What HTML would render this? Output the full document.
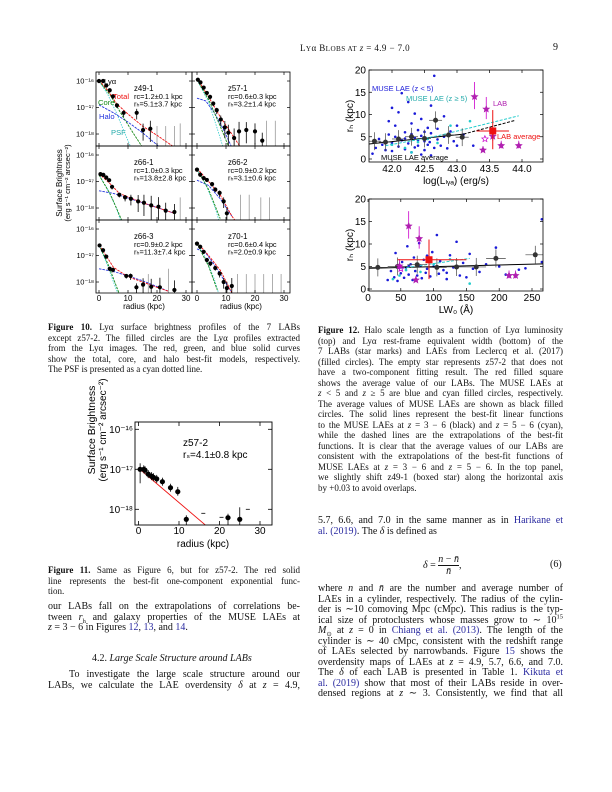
<!DOCTYPE html>
<html><head><meta charset="utf-8">
<style>
body{margin:0;background:#fff}
#page{position:relative;width:612px;height:792px;overflow:hidden;background:#fff;font-family:"Liberation Serif",serif;color:#111}
.l{position:absolute;white-space:nowrap;font-size:10px;line-height:10px}
.j{text-align:justify;text-align-last:justify;white-space:normal}
.c{font-size:9px}
.lc{left:48px;width:252px}
.rc{left:318px;width:245px}
sub,sup{line-height:0}
b{font-weight:bold}
a{color:#2a2aa0;text-decoration:none}
svg{position:absolute;left:0;top:0}
</style></head><body>
<div id="page">
<div class="l" style="left:300px;top:43px;font-size:9px;letter-spacing:0.4px">L<span style="font-size:7.2px">Y</span>α B<span style="font-size:7.2px">LOBS AT</span> <i>z</i> = 4.9 − 7.0</div>
<div class="l" style="left:553px;top:43px">9</div>

<svg id="chart" width="612" height="792"></svg>

<div>
<div class="l lc j c" style="top:322px"><b>Figure 10.</b> Lyα surface brightness profiles of the 7 LABs</div>
<div class="l lc j c" style="top:332.5px">except z57-2. The filled circles are the Lyα profiles extracted</div>
<div class="l lc j c" style="top:343px">from the Lyα images. The red, green, and blue solid curves</div>
<div class="l lc j c" style="top:353.5px">show the total, core, and halo best-fit models, respectively.</div>
<div class="l lc c" style="top:364px">The PSF is presented as a cyan dotted line.</div>
</div>
<div>
<div class="l lc j c" style="top:565px"><b>Figure 11.</b> Same as Figure 6, but for z57-2. The red solid</div>
<div class="l lc j c" style="top:575.5px">line represents the best-fit one-component exponential func-</div>
<div class="l lc c" style="top:586px">tion.</div>
</div>
<div>
<div class="l lc j" style="top:602px">our LABs fall on the extrapolations of correlations be-</div>
<div class="l lc j" style="top:612.5px">tween <i>r</i><sub style="font-size:6.5px">h</sub> and galaxy properties of the MUSE LAEs at</div>
<div class="l lc" style="top:623px"><i>z</i> = 3 − 6 in Figures <a>12</a>, <a>13</a>, and <a>14</a>.</div>
<div class="l" style="left:92px;top:654px">4.2. <i>Large Scale Structure around LABs</i></div>
<div class="l lc j" style="top:670px">&nbsp;&nbsp;&nbsp;To investigate the large scale structure around our</div>
<div class="l lc j" style="top:680.5px">LABs, we calculate the LAE overdensity <i>δ</i> at <i>z</i> = 4.9,</div>
</div>
<div>
<div class="l rc j c" style="top:325px"><b>Figure 12.</b> Halo scale length as a function of Lyα luminosity</div>
<div class="l rc j c" style="top:335.5px">(top) and Lyα rest-frame equivalent width (bottom) of the</div>
<div class="l rc j c" style="top:346px">7 LABs (star marks) and LAEs from Leclercq et al. (2017)</div>
<div class="l rc j c" style="top:356.5px">(filled circles). The empty star represents z57-2 that does not</div>
<div class="l rc j c" style="top:367px">have a two-component fitting result. The red filled square</div>
<div class="l rc j c" style="top:377.5px">shows the average value of our LABs. The MUSE LAEs at</div>
<div class="l rc j c" style="top:388px"><i>z</i> &lt; 5 and <i>z</i> ≥ 5 are blue and cyan filled circles, respectively.</div>
<div class="l rc j c" style="top:398.5px">The average values of MUSE LAEs are shown as black filled</div>
<div class="l rc j c" style="top:409px">circles. The solid lines represent the best-fit linear functions</div>
<div class="l rc j c" style="top:419.5px">to the MUSE LAEs at <i>z</i> = 3 − 6 (black) and <i>z</i> = 5 − 6 (cyan),</div>
<div class="l rc j c" style="top:430px">while the dashed lines are the extrapolations of the best-fit</div>
<div class="l rc j c" style="top:440.5px">functions. It is clear that the average values of our LABs are</div>
<div class="l rc j c" style="top:451px">consistent with the extrapolations of the best-fit functions of</div>
<div class="l rc j c" style="top:461.5px">MUSE LAEs at <i>z</i> = 3 − 6 and <i>z</i> = 5 − 6. In the top panel,</div>
<div class="l rc j c" style="top:472px">we slightly shift z49-1 (boxed star) along the horizontal axis</div>
<div class="l rc c" style="top:482.5px">by +0.03 to avoid overlaps.</div>
</div>
<div>
<div class="l rc j" style="top:516px">5.7, 6.6, and 7.0 in the same manner as in <a>Harikane et</a></div>
<div class="l rc" style="top:526.5px"><a>al. (2019)</a>. The <i>δ</i> is defined as</div>
<div class="l" style="left:423px;top:554px;font-size:10px"><i>δ</i> = <span style="display:inline-block;vertical-align:middle;text-align:center;line-height:11px"><span style="display:block;border-bottom:0.6px solid #111"><i>n</i> − <i>n̄</i></span><span style="display:block"><i>n̄</i></span></span>,</div>
<div class="l" style="left:550px;top:560px">(6)</div>
<div class="l rc j" style="top:584px">where <i>n</i> and <i>n̄</i> are the number and average number of</div>
<div class="l rc j" style="top:594.5px">LAEs in a cylinder, respectively. The radius of the cylin-</div>
<div class="l rc j" style="top:605px">der is ∼10 comoving Mpc (cMpc). This radius is the typ-</div>
<div class="l rc j" style="top:615.5px">ical size of protoclusters whose masses grow to ∼ 10<sup style="font-size:6.5px">15</sup></div>
<div class="l rc j" style="top:626px"><i>M</i><sub style="font-size:6.5px">⊙</sub> at <i>z</i> = 0 in <a>Chiang et al. (2013)</a>. The length of the</div>
<div class="l rc j" style="top:636.5px">cylinder is ∼ 40 cMpc, consistent with the redshift range</div>
<div class="l rc j" style="top:647px">of LAEs selected by narrowbands. Figure <a>15</a> shows the</div>
<div class="l rc j" style="top:657.5px">overdensity maps of LAEs at <i>z</i> = 4.9, 5.7, 6.6, and 7.0.</div>
<div class="l rc j" style="top:668px">The <i>δ</i> of each LAB is presented in Table 1. <a>Kikuta et</a></div>
<div class="l rc j" style="top:678.5px"><a>al. (2019)</a> show that most of their LABs reside in over-</div>
<div class="l rc j" style="top:689px">densed regions at <i>z</i> ∼ 3. Consistently, we find that all</div>
</div>
</div>
<script>
// ---------- Figure 10 data ----------
const f10Names = ["z49-1","z57-1","z66-1","z66-2","z66-3","z70-1"];
const f10Rc = ["r\u1D04=1.2±0.1 kpc","r\u1D04=0.6±0.3 kpc","r\u1D04=1.0±0.3 kpc","r\u1D04=0.9±0.2 kpc","r\u1D04=0.9±0.2 kpc","r\u1D04=0.6±0.4 kpc"];
const f10Rh = ["r\u2095=5.1±3.7 kpc","r\u2095=3.2±1.4 kpc","r\u2095=13.8±2.8 kpc","r\u2095=3.1±0.6 kpc","r\u2095=11.3±7.4 kpc","r\u2095=2.0±0.9 kpc"];
const f10PtR = [
 [0,1.4,2.5,3.7,4.8,6.2,8.5,13,15.2,17.7],
 [0.3,1.2,2.3,3.4,4.5,5.6,6.8,8.2,9.6,10.8,12.8,14.5,17,20,22.5],
 [0.5,1.5,2.5,3.5,4.5,7,9,11,13.5,15.5,18,20.5,23,26],
 [0,1.1,2.3,3.4,5.2,6.3,7.8,9.2,10.3],
 [0.2,1.4,2.5,3.7,4.8,9.4,10.9,12.9,15.2,18,21,26],
 [0,1.1,2.3,3.4,4.6,6.3,7.8,9.2,10.3,12]];
const f10PtL = [
 [-16.0,-16.0,-16.17,-16.35,-16.58,-16.92,-17.2,-17.2,-17.85,-17.8],
 [-15.95,-16.05,-16.25,-16.45,-16.6,-16.85,-17.1,-17.45,-17.75,-17.95,-18.15,-17.9,-17.85,-17.9,-18.25],
 [-16.72,-16.75,-16.85,-16.95,-17.2,-17.5,-17.6,-17.65,-17.75,-17.8,-17.9,-17.95,-18.1,-18.15],
 [-16.55,-16.74,-16.87,-16.94,-17.1,-17.3,-17.43,-17.75,-18.2],
 [-16.62,-16.8,-17.04,-17.5,-17.54,-17.77,-17.77,-18.2,-18.1,-18.18,-18.2,-18.3],
 [-16.55,-16.67,-16.86,-17.17,-17.3,-17.47,-17.68,-18.0,-18.23,-18.15]];
const f10Err = [0.08,0.08,0.08,0.08,0.1,0.1,0.15,0.25,0.4,0.5,0.6,0.6,0.5,0.5,0.5];
const f10Total = [
 [[0,-15.97],[3,-16.35],[6,-16.85],[10,-17.25],[15,-17.7],[20,-18.05],[26,-18.5]],
 [[0,-15.9],[4,-16.6],[8,-17.35],[12,-18.0],[15,-18.5]],
 [[0,-16.7],[4,-17.1],[7,-17.45],[15,-17.8],[26,-18.2]],
 [[0,-16.5],[4,-17.0],[8,-17.5],[12,-18.3],[13,-18.45]],
 [[0,-16.6],[3,-17.1],[5,-17.45],[10,-17.8],[20,-18.2],[24,-18.35]],
 [[0,-16.5],[4,-17.0],[8,-17.55],[12,-18.4]]];
const f10Core = [
 [[0,-16.0],[4,-16.55],[8,-17.3],[12,-18.0],[15,-18.5]],
 [[0,-15.95],[4,-16.7],[8,-17.7],[11,-18.5]],
 [[0,-16.75],[4,-17.5],[8,-18.5]],
 [[0,-16.55],[4,-17.3],[8,-18.4]],
 [[0,-16.6],[3,-17.3],[7,-18.45]],
 [[0,-16.55],[4,-17.4],[7,-18.3]]];
const f10Halo = [
 [[0,-16.9],[5,-17.2],[10,-17.55],[15,-17.95],[21,-18.5]],
 [[0,-16.65],[3,-16.75],[6,-17.2],[9,-17.8],[12,-18.5]],
 [[0,-17.35],[5,-17.45],[15,-17.8],[26,-18.2]],
 [[0,-16.95],[4,-17.15],[8,-17.65],[12,-18.3]],
 [[0,-17.5],[5,-17.6],[15,-17.95],[24,-18.35]],
 [[0,-16.75],[3,-16.9],[6,-17.35],[10,-18.05],[12,-18.4]]];
const f10Psf = [
 [[0,-16.0],[3,-16.5],[6,-17.2],[9,-18.0],[11,-18.5]],
 [[0,-15.95],[4,-16.8],[7,-17.8],[9,-18.5]],
 [[0,-16.75],[3,-17.3],[6,-18.0],[7.5,-18.5]],
 [[0,-16.55],[3,-17.1],[6,-17.9],[7.5,-18.45]],
 [[0,-16.6],[3,-17.4],[6,-18.3],[7,-18.5]],
 [[0,-16.55],[3,-17.1],[6,-17.9],[7.5,-18.45]]];
const f10LimR = [[20,23,26,28],[24,27],[28],[15,18,22,25],[17,24],[14,17,20,23,26,29]];
const f10Ticks = ["10\u207B\u00B9\u2076","10\u207B\u00B9\u2077","10\u207B\u00B9\u2078"];
const f10TickLog = [-16,-17,-18];
const f10XTicks = [0,10,20,30];
// ---------- Figure 11 data ----------
const f11R = [0.4,1.3,1.6,2.4,3.2,3.7,4.5,5.9,7.9,9.7,11.8,22.1,25];
const f11L = [-17.0,-17.0,-17.02,-17.12,-17.17,-17.2,-17.24,-17.31,-17.46,-17.56,-18.25,-18.21,-18.25];
const f11ErrLo = [0.35,0.1,0.1,0.1,0.1,0.1,0.1,0.1,0.1,0.1,0.6,0.3,0.4];
const f11ErrHi = [0.15,0.1,0.1,0.1,0.1,0.1,0.1,0.1,0.1,0.12,0.1,0.1,0.3];
const f11Fit = [[0,-16.97],[16.6,-18.4]];
// ---------- Figure 12 data ----------
const topBlue = [[41.75,2.5],[41.8,4.5],[41.85,3.2],[41.9,2.0],[41.95,5.5],[42.0,1.8],[42.0,3.6],[42.05,7.5],[42.1,2.8],[42.1,10.5],[42.15,4.2],[42.2,2.2],[42.2,6.0],[42.25,3.5],[42.3,1.5],[42.3,8.0],[42.35,4.8],[42.35,2.6],[42.4,6.5],[42.4,3.0],[42.45,9.0],[42.45,5.2],[42.5,2.0],[42.5,4.0],[42.55,7.0],[42.55,3.2],[42.6,5.8],[42.6,12.0],[42.65,2.5],[42.65,18.7],[42.7,4.4],[42.7,6.8],[42.75,3.0],[42.8,9.6],[42.8,5.0],[42.85,2.4],[42.9,6.2],[42.95,4.0],[43.0,3.0],[43.0,7.5],[43.1,5.5],[42.0,11.5],[41.95,8.5],[42.25,12.8],[42.15,14.8],[42.35,10.2],[41.7,1.2],[42.45,1.0],[42.6,0.8],[42.05,5.0],[42.2,4.6],[42.4,4.2],[42.3,5.6],[42.5,6.1],[42.58,3.8],[43.25,3.0]];
const topCyan = [[42.0,3.2],[42.2,2.5],[42.4,3.8],[42.55,4.5],[42.7,3.6],[42.9,7.5],[43.2,8.5],[42.3,1.5]];
const topAvgL = [41.73,41.9,42.1,42.3,42.5,42.67,42.87,43.08];
const topAvgR = [4.0,3.8,4.5,5.0,4.6,8.7,5.4,4.9];
const labL = [43.27,43.45,43.55,43.4,43.68,43.95];
const labR = [14.0,11.2,5.1,2.0,3.0,3.0];
const labEmptyL = [43.43]; const labEmptyR = [4.5];
const labAvg = [43.55,6.3]; const labAvgErrL=[43.3,43.8]; const labAvgErrR=[2.2,11];
const topBlackLine = [[41.6,3.3],[43.1,5.6],[43.9,8.7]];
const topCyanLine = [[41.9,3.0],[42.7,5.2],[43.95,9.7]];
const botBlue = [[30,2.0],[35,4.0],[40,2.6],[42,8.0],[45,1.8],[50,3.5],[52,6.0],[55,2.5],[58,4.8],[60,9.5],[62,3.2],[65,5.5],[68,2.0],[70,7.0],[72,4.0],[75,3.0],[78,10.2],[80,5.2],[82,2.4],[85,6.5],[88,3.6],[90,4.5],[95,2.8],[98,8.2],[100,5.0],[105,12.0],[108,3.4],[110,6.2],[115,4.2],[120,2.2],[125,7.5],[130,4.8],[135,10.5],[140,3.0],[145,5.8],[150,2.6],[155,7.8],[160,4.5],[170,3.8],[180,5.5],[195,9.2],[200,5.0],[210,3.2],[230,4.3],[240,4.6],[265,15.5],[265,6.0],[120,3.6],[90,7.4],[62,5.1]];
const botCyan = [[38,2.2],[48,3.0],[58,4.2],[80,3.8],[100,5.5],[125,6.6],[155,1.2],[95,6.9]];
const botAvgW = [15,45,75,105,135,165,195,255];
const botAvgR = [4.8,5.0,5.4,4.8,4.9,4.9,6.8,7.6];
const labW = [62,78,48,73,215,225];
const labEmptyW = [50];
const labAvgW = [93,6.5]; const labAvgErrW=[45,150];
const botBlackLine = [[0,4.6],[270,5.6]];
const botCyanLine = [[45,4.5],[155,6.8]];
const topXTicks = [42.0,42.5,43.0,43.5,44.0];
const topXLabels = ["42.0","42.5","43.0","43.5","44.0"];
const yTicks12 = [0,5,10,15,20];
const botXTicks = [0,50,100,150,200,250];

const NS="http://www.w3.org/2000/svg";
const svg=document.getElementById('chart');
function el(tag,attrs,parent){const e=document.createElementNS(NS,tag);for(const k in attrs)e.setAttribute(k,attrs[k]);(parent||svg).appendChild(e);return e;}
function txt(x,y,s,size,opts,parent){const t=el('text',Object.assign({x:x,y:y,'font-size':size,'font-family':'Liberation Sans, DejaVu Sans, sans-serif',fill:'#000'},opts||{}),parent);t.textContent=s;return t;}
function poly(pts,fx,fy,stroke,w,dash,parent){const p=el('polyline',{points:pts.map(q=>fx(q[0]).toFixed(1)+','+fy(q[1]).toFixed(1)).join(' '),fill:'none',stroke:stroke,'stroke-width':w,'stroke-dasharray':dash||'none'},parent);return p;}

// ----- Figure 10 -----
const f10g=el('g',{});


const colX=[[96,192,99],[192,290,197]]; const rowY=[72,146,220]; const rowH=[74,74,73];
for(let i=0;i<6;i++){
 const c=i%2, r=Math.floor(i/2);
 const x0=colX[c][0],x1=colX[c][1],r0=colX[c][2],top=rowY[r],bot=top+rowH[r];
 const fx=v=>r0+v*2.9, fy=v=>top+(-15.66-v)*26.5;
 const g=el('g',{},f10g);
 
 
 const cid='cp'+i; const cp=el('clipPath',{id:cid},g); el('rect',{x:x0,y:top,width:x1-x0,height:bot-top},cp);
 const inner=el('g',{'clip-path':'url(#'+cid+')'},g);
 f10LimR[i].forEach(v=>{const ln=el('line',{x1:fx(v),x2:fx(v),y1:fy(-17.5-(v%3)*0.1),y2:bot,stroke:'#999','stroke-width':0.8},inner);});
 const pp=poly(f10Psf[i],fx,fy,'#3cc','0.8','1.5,1.2',inner);  
 const hp=poly(f10Halo[i],fx,fy,'#2233dd','0.9','2.5,1',inner);  
 const cpl=poly(f10Core[i],fx,fy,'#1a8a1a','0.9','2.5,1',inner);  
 const tp=poly(f10Total[i],fx,fy,'#e11','0.9','2.5,1',inner);  
 f10PtR[i].forEach((rv,k)=>{const lv=f10PtL[i][k],e=f10Err[k]||0.3;
  const eb=el('line',{x1:fx(rv),x2:fx(rv),y1:fy(lv+e*0.6),y2:fy(lv-e),stroke:'#000','stroke-width':0.8},inner);
   
  const d=el('circle',{cx:fx(rv),cy:fy(lv),r:2.1,fill:'#000'},inner);
   });
 const fr=el('rect',{x:x0,y:top,width:x1-x0,height:bot-top,fill:'none',stroke:'#000','stroke-width':0.8},g);
  
 f10TickLog.forEach((lv,k)=>{const y=fy(lv);el('line',{x1:x0,x2:x0+3,y1:y,y2:y,stroke:'#000','stroke-width':0.7},g);el('line',{x1:x1-3,x2:x1,y1:y,y2:y,stroke:'#000','stroke-width':0.7},g);
  if(c===0){const t=txt(x0-2,y+2.5,f10Ticks[k],7.5,{'text-anchor':'end'},g);}});
 f10XTicks.forEach(v=>{el('line',{x1:fx(v),x2:fx(v),y1:bot,y2:bot-3,stroke:'#000','stroke-width':0.7},g);el('line',{x1:fx(v),x2:fx(v),y1:top,y2:top+3,stroke:'#000','stroke-width':0.7},g);
  if(r===2){const t=txt(fx(v),bot+8,String(v),8,{'text-anchor':'middle'},g);}});
 const tx=c===0?x0+38:x1-62;
 const n=txt(tx,top+19,f10Names[i],7.8,{},g);  
 const a=txt(tx,top+27,f10Rc[i],7.4,{},g);  
 const b=txt(tx,top+34.5,f10Rh[i],7.4,{},g);  
 if(r===2){const xl=txt((x0+x1)/2,bot+16,'radius (kpc)',8,{'text-anchor':'middle'},g);}
}
[['Lyα',104,84,'#000'],['Total',113,99,'#e11'],['Core',98,105,'#1a8a1a'],['Halo',99,119,'#2233dd'],['PSF',111,135,'#2aa']].forEach(q=>{const t=txt(q[1],q[2],q[0],7.6,{fill:q[3]},f10g);});
{const t=txt(0,0,'Surface Brightness',8,{'text-anchor':'middle',transform:'translate(62,183) rotate(-90)'},f10g);
 const u=txt(0,0,'(erg s\u207B\u00B9 cm\u207B\u00B2 arcsec\u207B\u00B2)',7.5,{'text-anchor':'middle',transform:'translate(70,183) rotate(-90)'},f10g);}

// ----- Figure 11 -----
{const g=el('g',{});  
 const x0=135,x1=272,top=422,bot=525;
 const fx=v=>138.5+v*4.05, fy=v=>469.3+(-17-v)*40;
 const cp=el('clipPath',{id:'c11'},g); el('rect',{x:x0,y:top,width:x1-x0,height:bot-top},cp);
 const inner=el('g',{'clip-path':'url(#c11)'},g);
 const fl=poly(f11Fit,fx,fy,'#e11','0.9','',inner);  
 f11R.forEach((rv,k)=>{const lv=f11L[k];
  const eb=el('line',{x1:fx(rv),x2:fx(rv),y1:fy(lv+f11ErrHi[k]),y2:fy(lv-f11ErrLo[k]),stroke:'#000','stroke-width':0.8},inner);
   
  const d=el('circle',{cx:fx(rv),cy:fy(lv),r:2.6,fill:'#000'},inner);
   });
 [[16,-18.1],[27,-18.0],[20.5,-18.2]].forEach(q=>{const m=el('line',{x1:fx(q[0])-2,x2:fx(q[0])+2,y1:fy(q[1]),y2:fy(q[1]),stroke:'#000','stroke-width':0.8},inner);});
 const fr=el('rect',{x:x0,y:top,width:x1-x0,height:bot-top,fill:'none',stroke:'#000','stroke-width':0.9},g);
  
 f10TickLog.forEach((lv,k)=>{const y=fy(lv);el('line',{x1:x0,x2:x0+4,y1:y,y2:y,stroke:'#000','stroke-width':0.8},g);el('line',{x1:x1-4,x2:x1,y1:y,y2:y,stroke:'#000','stroke-width':0.8},g);
  const t=txt(x0-2,y+3.5,f10Ticks[k],10,{'text-anchor':'end'},g);});
 f10XTicks.forEach(v=>{el('line',{x1:fx(v),x2:fx(v),y1:bot,y2:bot-4,stroke:'#000','stroke-width':0.8},g);el('line',{x1:fx(v),x2:fx(v),y1:top,y2:top+4,stroke:'#000','stroke-width':0.8},g);
  const t=txt(fx(v),bot+9,String(v),10,{'text-anchor':'middle'},g);});
 const xl=txt(203,547,'radius (kpc)',10,{'text-anchor':'middle'},g);
 const n=txt(183,446,'z57-2',10,{},g);
 const s=txt(183,458,'r\u209B=4.1±0.8 kpc',10,{},g);
 const t1=txt(0,0,'Surface Brightness',10.5,{'text-anchor':'middle',transform:'translate(95,430) rotate(-90)'},g);
 const t2=txt(0,0,'(erg s\u207B\u00B9 cm\u207B\u00B2 arcsec\u207B\u00B2)',10,{'text-anchor':'middle',transform:'translate(106,430) rotate(-90)'},g);
}

// ----- Figure 12 -----
function star(cx,cy,size,fill,stroke,parent){const pts=[];for(let k=0;k<10;k++){const a=-Math.PI/2+k*Math.PI/5,rr=k%2?size*0.45:size;pts.push((cx+rr*Math.cos(a)).toFixed(1)+','+(cy+rr*Math.sin(a)).toFixed(1));}return el('polygon',{points:pts.join(' '),fill:fill,stroke:stroke,'stroke-width':0.7},parent);}
function panel12(name,x0,x1,top,bot,fx,fy,blue,cyan,avgX,avgY,avgXerr,labX,labY,emptyX,avg,avgErrX,blackLine,cyanLine,splitX,xt,xlab,xtitle,id){
 const g=el('g',{});  
 const cpth=el('clipPath',{id:id},g); el('rect',{x:x0,y:top,width:x1-x0,height:bot-top},cpth);
 const inner=el('g',{'clip-path':'url(#'+id+')'},g);
 blue.forEach(q=>{const d=el('circle',{cx:fx(q[0]),cy:fy(q[1]),r:1.3,fill:'#1a1ad8'},inner);});
 cyan.forEach(q=>{const d=el('circle',{cx:fx(q[0]),cy:fy(q[1]),r:1.3,fill:'#2cc'},inner);});
 const bs=poly(blackLine.filter(q=>q[0]<=splitX),fx,fy,'#000','1','',inner);
 const bd=poly(blackLine.filter(q=>q[0]>=splitX),fx,fy,'#000','1','3,1.5',inner);
 const cl=poly(cyanLine,fx,fy,'#2cc','1','3,1.5',inner);
 avgX.forEach((v,k)=>{const y=avgY[k];
  const h=el('line',{x1:fx(v-avgXerr),x2:fx(v+avgXerr),y1:fy(y),y2:fy(y),stroke:'#444','stroke-width':0.7},inner);
  const vv=el('line',{x1:fx(v),x2:fx(v),y1:fy(y-2),y2:fy(y+2),stroke:'#444','stroke-width':0.7},inner);
  const d=el('circle',{cx:fx(v),cy:fy(y),r:2.5,fill:'#333'},inner);});
 labX.forEach((v,k)=>{const y=labY[k];
  const e=el('line',{x1:fx(v),x2:fx(v),y1:fy(y*0.8),y2:fy(y*1.2+0.5),stroke:'#c0c','stroke-width':0.8},inner);
  const s=star(fx(v),fy(y),3.3,'#b020b0','#b020b0',inner);});
 emptyX.forEach(v=>{const s=star(fx(v),fy(labEmptyR[0]),3.3,'none','#c0c',inner);});
 const ex=el('line',{x1:fx(avgErrX[0]),x2:fx(avgErrX[1]),y1:fy(avg[1]),y2:fy(avg[1]),stroke:'#e11','stroke-width':1},inner);
 const ey=el('line',{x1:fx(avg[0]),x2:fx(avg[0]),y1:fy(labAvgErrR[0]),y2:fy(labAvgErrR[1]),stroke:'#e11','stroke-width':1},inner);
 const sq=el('rect',{x:fx(avg[0])-3.5,y:fy(avg[1])-3.5,width:7,height:7,fill:'#e11'},inner);
 const fr=el('rect',{x:x0,y:top,width:x1-x0,height:bot-top,fill:'none',stroke:'#000','stroke-width':0.8},g);
 yTicks12.forEach(v=>{const y=fy(v);el('line',{x1:x0,x2:x0+3,y1:y,y2:y,stroke:'#000','stroke-width':0.7},g);el('line',{x1:x1-3,x2:x1,y1:y,y2:y,stroke:'#000','stroke-width':0.7},g);
  const t=txt(x0-3,y+3.5,String(v),10,{'text-anchor':'end'},g);});
 xt.forEach((v,k)=>{el('line',{x1:fx(v),x2:fx(v),y1:bot,y2:bot-3,stroke:'#000','stroke-width':0.7},g);el('line',{x1:fx(v),x2:fx(v),y1:top,y2:top+3,stroke:'#000','stroke-width':0.7},g);
  const t=txt(fx(v),bot+10,xlab[k],10,{'text-anchor':'middle'},g);});
 const xl=txt((x0+x1)/2,bot+22,xtitle,10,{'text-anchor':'middle'},g);
 const yl=txt(0,0,'r\u2095 (kpc)',10,{'text-anchor':'middle',transform:'translate('+(x0-16)+','+((top+bot)/2)+') rotate(-90)'},g);
 return g;
}
const gTop=panel12('figure-12-top',369,543,70,162,v=>392+(v-42)*65,v=>159-v*4.45,topBlue,topCyan,topAvgL,topAvgR,0.1,labL,labR,labEmptyL,labAvg,labAvgErrL,topBlackLine,topCyanLine,43.1,topXTicks,topXLabels,'log(L\u2097\u1D67\u2090) (erg/s)','c12a');
[['MUSE LAE (z < 5)',372,91,'#1a1ad8'],['MUSE LAE (z ≥ 5)',406,101,'#2aa'],['LAB',493,106,'#b020b0'],['LAB average',497,139,'#e11'],['MUSE LAE average',381,160,'#000']].forEach(q=>{const t=txt(q[1],q[2],q[0],7.5,{fill:q[3]},gTop);});
panel12('figure-12-bottom',369,543,199,291,v=>368+v*0.656,v=>289-v*4.5,botBlue,botCyan,botAvgW,botAvgR,15,labW,labR,labEmptyW,labAvgW,labAvgErrW,botBlackLine,botCyanLine,270,botXTicks,botXTicks.map(String),'LW\u2080 (Å)','c12b');
</script>
</body></html>
